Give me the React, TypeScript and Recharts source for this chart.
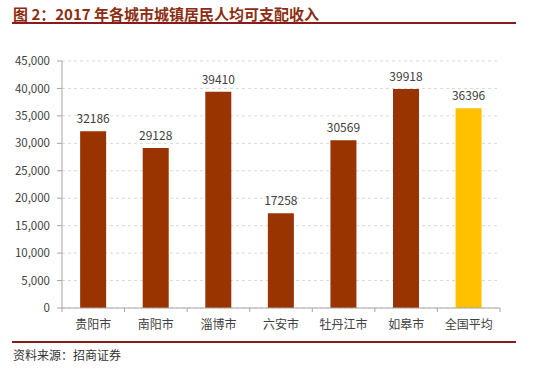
import { BarChart, Bar, XAxis, YAxis, CartesianGrid, Cell, LabelList } from "recharts";

const cities = ["贵阳市", "南阳市", "淄博市", "六安市", "牡丹江市", "如皋市", "全国平均"];
const income = [32186, 29128, 39410, 17258, 30569, 39918, 36396];
const yTicks = [0, 5000, 10000, 15000, 20000, 25000, 30000, 35000, 40000, 45000];

const data = cities.map((name, i) => ({ name, value: income[i] }));

const PLOT_LEFT = 62;
const PLOT_RIGHT = 500;
const BAND = (PLOT_RIGHT - PLOT_LEFT) / cities.length;

const CityTick = (props: any) => {
  const { x, y, payload, index } = props;
  const top = y - 8;
  return (
    <g>
      <line x1={x - BAND / 2} x2={x - BAND / 2} y1={top} y2={top + 4} stroke="#a6a6a6" />
      {index === cities.length - 1 && (
        <line x1={x + BAND / 2} x2={x + BAND / 2} y1={top} y2={top + 4} stroke="#a6a6a6" />
      )}
      <text x={x} y={y + 13} textAnchor="middle" fontSize={12} fill="#404040">
        {payload.value}
      </text>
    </g>
  );
};

export default function App() {
  const font = '"Microsoft YaHei", "Noto Sans CJK SC", sans-serif';
  return (
    <div style={{ position: "absolute", left: 0, top: 0, width: 550, height: 369, background: "#fff", fontFamily: font }}>
      <div style={{ position: "absolute", left: 13, top: 3, fontSize: 15, fontWeight: 700, color: "#8c2d12", letterSpacing: 0 }}>
        图 2：2017 年各城市城镇居民人均可支配收入
      </div>
      <div style={{ position: "absolute", left: 12, top: 22, width: 504, height: 2, background: "#8b1a1a" }} />
      <BarChart
        width={550}
        height={369}
        data={data}
        margin={{ top: 61, right: 50, left: 0, bottom: 31 }}
        barCategoryGap="29%"
      >
        <CartesianGrid vertical={false} stroke="#d9d9d9" strokeDasharray="3 3" />
        <YAxis
          width={62}
          domain={[0, 45000]}
          ticks={yTicks}
          interval={0}
          tickFormatter={(v: number) => v.toLocaleString("en-US")}
          tick={{ fontSize: 11.5, fill: "#404040", fontFamily: font }}
          axisLine={{ stroke: "#a6a6a6" }}
          tickLine={{ stroke: "#a6a6a6" }}
          tickSize={5}
          tickMargin={7}
        />
        <XAxis
          dataKey="name"
          height={30}
          interval={0}
          axisLine={{ stroke: "#a6a6a6" }}
          tickLine={false}
          tick={<CityTick />}
        />
        <Bar dataKey="value" isAnimationActive={false}>
          {data.map((d, i) => (
            <Cell key={d.name} fill={i === data.length - 1 ? "#ffc000" : "#993300"} />
          ))}
          <LabelList dataKey="value" position="top" offset={8} fontSize={12} fill="#404040" />
        </Bar>
      </BarChart>
      <div style={{ position: "absolute", left: 12, top: 341, width: 504, height: 2, background: "#8b1a1a" }} />
      <div style={{ position: "absolute", left: 13, top: 346, fontSize: 12, color: "#333" }}>
        资料来源：招商证券
      </div>
    </div>
  );
}
